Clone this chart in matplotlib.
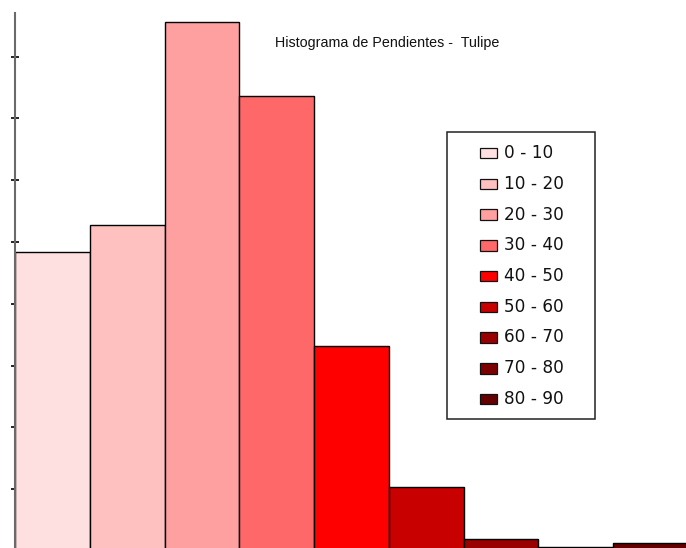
import matplotlib
matplotlib.use("Agg")
import matplotlib.pyplot as plt
from matplotlib.patches import Rectangle

# Slope classes (degrees) and the share of terrain in each class
categories = ["0 - 10", "10 - 20", "20 - 30", "30 - 40", "40 - 50",
              "50 - 60", "60 - 70", "70 - 80", "80 - 90"]
frequencies = [24.2, 26.4, 42.8, 36.8, 16.6, 5.15, 0.95, 0.32, 0.62]
colors = ["#FFE0E0", "#FFC0C0", "#FFA0A0", "#FF6868", "#FF0000",
          "#C80000", "#990000", "#7D0000", "#640000"]
y_ticks = [5, 10, 15, 20, 25, 30, 35, 40]
title = "Histograma de Pendientes -  Tulipe"

W, H, DPI = 686, 548, 100
fig = plt.figure(figsize=(W / DPI, H / DPI), dpi=DPI)
fig.patch.set_facecolor("white")

# Plot area runs slightly past the right and bottom edges of the canvas
left_px, right_px, top_px, base_px = 15, 688, 13, 551
ax = fig.add_axes([left_px / W, 1 - base_px / H,
                   (right_px - left_px) / W, (base_px - top_px) / H])
ax.set_facecolor("none")

x = list(range(len(categories)))
ax.bar(x, frequencies, width=1.0, align="edge", color=colors,
       edgecolor="black", linewidth=1.0, zorder=2)

ax.set_xlim(0, len(categories))
ax.set_ylim(0, (base_px - top_px) / 61.8 * 5)
ax.set_yticks(y_ticks)
ax.set_yticklabels([])
ax.set_xticks([])
ax.tick_params(axis="y", direction="inout", length=5.5, width=1.2,
               color="#000000")
for side in ("top", "right", "bottom"):
    ax.spines[side].set_visible(False)
ax.spines["left"].set_color("#6a6a6a")
ax.spines["left"].set_linewidth(1.5)
ax.spines["left"].set_zorder(3)

fig.text(275 / W, 1 - 43.5 / H, title, ha="left", va="center",
         fontsize=10.3, family=["Liberation Sans", "DejaVu Sans"],
         color="#111111")

# Legend box drawn in figure pixels
def fx(px):
    return px / W

def fy(py):
    return 1 - py / H

box_l, box_r, box_t, box_b = 446.7, 594.5, 131.7, 419
fig.patches.append(Rectangle((fx(box_l), fy(box_b)), fx(box_r) - fx(box_l),
                             fy(box_t) - fy(box_b), transform=fig.transFigure,
                             facecolor="white", edgecolor="#222222",
                             linewidth=1.1, zorder=5))
row0, row_step = 153.0, 30.75
sw_l, sw_w, sw_h = 479.5, 17.5, 10.5
for i, (lab, col) in enumerate(zip(categories, colors)):
    cy = row0 + i * row_step
    fig.patches.append(Rectangle((fx(sw_l), fy(cy + sw_h / 2)),
                                 sw_w / W, sw_h / H,
                                 transform=fig.transFigure, facecolor=col,
                                 edgecolor="#111111", linewidth=0.9, zorder=6))
    fig.text(fx(504), fy(cy), lab, ha="left", va="center",
             fontsize=12.2, family="DejaVu Sans", color="#111111", zorder=7)

fig.savefig("out.png", dpi=DPI, facecolor="white")
